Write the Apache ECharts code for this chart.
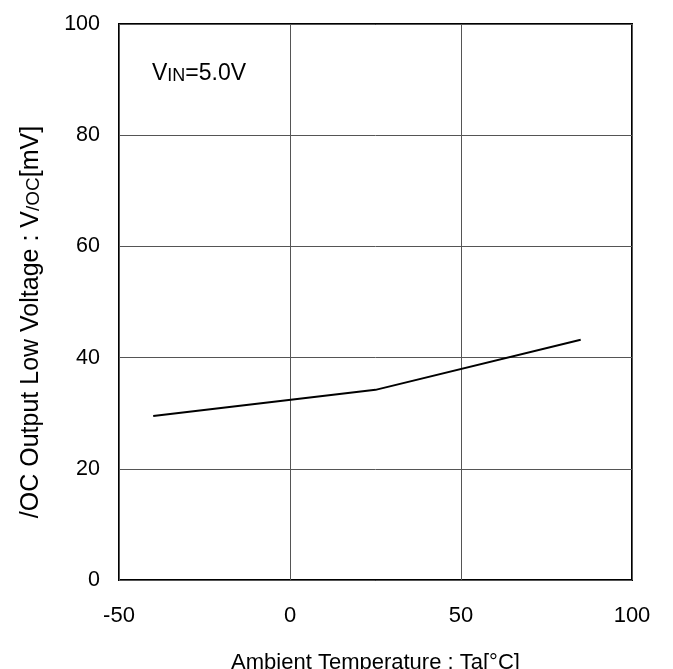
<!DOCTYPE html>
<html>
<head>
<meta charset="utf-8">
<script src="https://cdn.jsdelivr.net/npm/echarts@6/dist/echarts.min.js"></script>
<style>html,body{margin:0;padding:0;background:#fff;overflow:hidden}#c{width:673px;height:669px}</style>
</head>
<body>
<div id="c"></div>
<script>
const temperature = [-40, 25, 85];
const voltage = [29.5, 34.2, 43.2];
const xTicks = [-50, 0, 50, 100];
const yTicks = [0, 20, 40, 60, 80, 100];

const chart = echarts.init(document.getElementById('c'), null, {renderer: 'canvas', width: 673, height: 669});
const font = 'Liberation Sans, Arial, sans-serif';
chart.setOption({
  animation: false,
  grid: {left: 119, width: 513, top: 24, height: 556, outerBoundsMode: 'none', containLabel: false,
         show: true, borderColor: '#000', borderWidth: 2, backgroundColor: 'transparent'},
  xAxis: {
    type: 'value', min: xTicks[0], max: xTicks[xTicks.length - 1], interval: 50,
    axisLine: {show: false}, axisTick: {show: false},
    splitLine: {show: true, lineStyle: {color: '#555', width: 1}},
    axisLabel: {color: '#000', fontSize: 22, fontFamily: font, margin: 25},
    name: 'Ambient Temperature : Ta[°C]', nameLocation: 'middle', nameGap: 72,
    nameTextStyle: {color: '#000', fontSize: 22, fontFamily: font}
  },
  yAxis: {
    type: 'value', min: yTicks[0], max: yTicks[yTicks.length - 1], interval: 20,
    axisLine: {show: false}, axisTick: {show: false},
    splitLine: {show: true, lineStyle: {color: '#555', width: 1}},
    axisLabel: {color: '#000', fontSize: 21.5, fontFamily: font, margin: 19}
  },
  graphic: [{
    type: 'text', x: 31, y: 322, rotation: Math.PI / 2,
    style: {
      text: '{a|/OC Output Low Voltage : V}{b|/OC}{a|[mV]}',
      align: 'center', verticalAlign: 'middle',
      rich: {
        a: {fill: '#000', fontSize: 25, fontFamily: font},
        b: {fill: '#000', fontSize: 19, fontFamily: font, verticalAlign: 'bottom'}
      }
    }
  }, {
    type: 'text', left: 152, top: 62,
    style: {
      text: '{v|V}{s|IN}{v|=5.0V}',
      rich: {
        v: {fill: '#000', fontSize: 23, fontFamily: font},
        s: {fill: '#000', fontSize: 18, fontFamily: font, verticalAlign: 'bottom'}
      }
    }
  }],
  series: [{
    type: 'line', data: temperature.map((t, i) => [t, voltage[i]]),
    showSymbol: false, lineStyle: {color: '#000', width: 2}, z: 5
  }]
});
</script>
</body>
</html>
